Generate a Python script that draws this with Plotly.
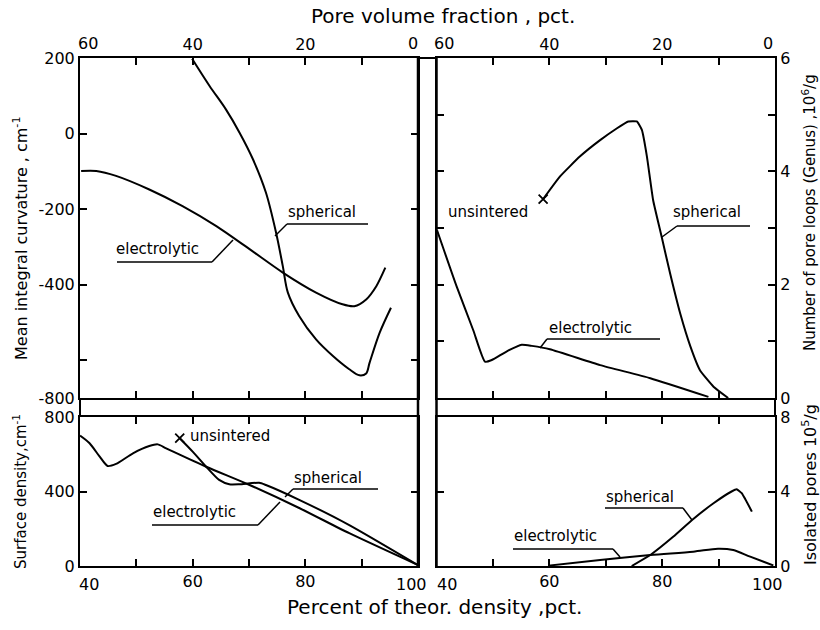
import plotly.graph_objects as go

# ---------------- data ----------------
# x values: percent of theoretical density; pore volume fraction = 100 - density
curv_sph_density = [59.9, 63.0, 65.9, 68.3, 70.7, 73.0, 74.8, 76.0, 76.9, 78.9, 81.9, 84.9, 87.8, 89.6, 90.8, 91.4, 93.2, 95.2]
curv_sph_values = [198, 126, 64, 3, -68, -156, -262, -351, -421, -483, -545, -589, -624, -640, -635, -607, -527, -461]
curv_ele_density = [40.2, 42.9, 46.4, 52.3, 58.2, 64.2, 70.1, 76.0, 81.9, 86.6, 88.7, 90.8, 92.6, 94.2]
curv_ele_values = [-99, -99, -112, -148, -192, -245, -306, -368, -421, -452, -457, -439, -404, -355]

genus_sph_density = [58.9, 61.9, 65.4, 69.0, 72.0, 74.0, 75.5, 76.4, 77.3, 78.4, 79.9, 81.4, 83.2, 85.0, 86.7, 89.1, 91.7]
genus_sph_values = [3.51, 3.91, 4.26, 4.55, 4.76, 4.88, 4.88, 4.73, 4.26, 3.49, 2.85, 2.20, 1.49, 0.91, 0.49, 0.20, 0.0]
genus_ele_density = [40.1, 43.6, 46.5, 48.6, 49.8, 52.4, 55.1, 56.9, 60.1, 69.0, 77.9, 88.2]
genus_ele_values = [2.96, 1.96, 1.20, 0.64, 0.67, 0.82, 0.94, 0.92, 0.86, 0.58, 0.35, 0.02]

surf_sph_density = [57.7, 60.0, 62.4, 64.7, 66.5, 68.3, 71.8, 73.0, 79.0, 87.8, 100.0]
surf_sph_values = [686, 614, 533, 462, 439, 439, 447, 435, 354, 220, 5]
surf_ele_density = [40.0, 41.7, 43.5, 44.9, 46.4, 49.4, 52.3, 53.8, 55.3, 62.4, 70.1, 79.0, 87.8, 100.0]
surf_ele_values = [700, 659, 587, 537, 548, 605, 644, 653, 632, 533, 435, 310, 176, 5]

iso_sph_density = [74.6, 77.9, 82.0, 85.3, 89.1, 92.3, 93.2, 94.1, 95.9]
iso_sph_values = [0.0, 0.59, 1.58, 2.47, 3.37, 4.0, 4.12, 3.91, 2.92]
iso_ele_density = [59.8, 69.0, 77.9, 85.5, 89.9, 92.6, 95.6, 99.7]
iso_ele_values = [0.02, 0.32, 0.59, 0.77, 0.93, 0.86, 0.50, 0.03]

density_ticks = [40, 50, 60, 70, 80, 90, 100]
density_ticktext = ["", "", "60", "", "80", "", ""]        # end labels drawn separately (shifted inward)
density_end_labels = ["40", "100"]
pore_ticktext = ["", "", "40", "", "20", "", ""]
pore_end_labels = ["60", "0"]
curv_ticks = [200, 0, -200, -400, -600, -700]
curv_ticktext = ["200", "0", "-200", "-400", "", "-800"]
genus_ticks = [0, 1, 2, 3, 4, 5, 6]
genus_ticktext = ["0", "", "2", "", "4", "", "6"]
surf_ticks = [0, 400, 800]
iso_ticks = [0, 4, 8]

# ---------------- layout helpers ----------------
W, H = 820, 630
FONT = "DejaVu Sans"


def px(x, y):
    return x / W, 1 - y / H


def dom_x(a, b):
    return [a / W, b / W]


def dom_y(top, bottom):
    return [1 - bottom / H, 1 - top / H]


LX = dom_x(80, 418)
RX = dom_x(436.5, 775)
TY = dom_y(58, 398)
BY = dom_y(417, 566)

fig = go.Figure()


def curve(x, y, xa, ya, smooth=0.8):
    fig.add_trace(go.Scatter(x=x, y=y, xaxis=xa, yaxis=ya, mode="lines",
                             line=dict(color="black", width=2, shape="spline", smoothing=smooth),
                             showlegend=False, hoverinfo="skip"))


curve(curv_sph_density, curv_sph_values, "x2", "y2", 0.9)
curve(curv_ele_density, curv_ele_values, "x2", "y2", 0.8)
curve(genus_sph_density, genus_sph_values, "x3", "y3", 0.4)
curve(genus_ele_density, genus_ele_values, "x3", "y3", 0.5)
curve(surf_sph_density, surf_sph_values, "x", "y", 0.6)
curve(surf_ele_density, surf_ele_values, "x", "y", 0.7)
curve(iso_sph_density, iso_sph_values, "x4", "y4", 0.4)
curve(iso_ele_density, iso_ele_values, "x4", "y4", 0.8)

# "unsintered" markers at the start of the spherical curves
for xs, ys, xa, ya in [(genus_sph_density, genus_sph_values, "x3", "y3"),
                       (surf_sph_density, surf_sph_values, "x", "y")]:
    fig.add_trace(go.Scatter(x=[xs[0]], y=[ys[0]], xaxis=xa, yaxis=ya, mode="markers",
                             marker=dict(symbol="x-thin", size=9, line=dict(color="black", width=1.8)),
                             showlegend=False, hoverinfo="skip"))

tickfont = dict(family=FONT, size=16, color="black")
common_x = dict(range=[40, 100], tickvals=density_ticks, ticks="inside", ticklen=7, tickwidth=1.5,
                tickcolor="black", showline=True, linecolor="black", linewidth=2, mirror="ticks",
                showgrid=False, zeroline=False, tickfont=tickfont, fixedrange=True, automargin=False)
common_y = dict(ticks="inside", ticklen=7, tickwidth=1.5, tickcolor="black", showline=True,
                linecolor="black", linewidth=2, mirror="ticks", showgrid=False, zeroline=False,
                tickfont=tickfont, fixedrange=True, automargin=False)

fig.update_layout(
    width=W, height=H, margin=dict(l=0, r=0, t=0, b=0, pad=0, autoexpand=False),
    paper_bgcolor="white", plot_bgcolor="white", showlegend=False,
    font=dict(family=FONT, color="black"),
    xaxis=dict(common_x, domain=LX, anchor="y", ticktext=density_ticktext),
    yaxis=dict(common_y, domain=BY, anchor="x", range=[0, 800], tickvals=surf_ticks),
    xaxis2=dict(common_x, domain=LX, anchor="y2", side="top", ticktext=pore_ticktext),
    yaxis2=dict(common_y, domain=TY, anchor="x2", range=[-700, 200], tickvals=curv_ticks,
                ticktext=curv_ticktext),
    xaxis3=dict(common_x, domain=RX, anchor="y3", side="top", ticktext=pore_ticktext),
    yaxis3=dict(common_y, domain=TY, anchor="x3", side="right", range=[0, 6], tickvals=genus_ticks,
                ticktext=genus_ticktext),
    xaxis4=dict(common_x, domain=RX, anchor="y4", ticktext=density_ticktext),
    yaxis4=dict(common_y, domain=BY, anchor="x4", side="right", range=[0, 8], tickvals=iso_ticks),
)

shapes = []


def pline(x0, y0, x1, y1, w=1.5):
    a, b = px(x0, y0)
    c, d = px(x1, y1)
    shapes.append(dict(type="line", xref="paper", yref="paper", x0=a, y0=b, x1=c, y1=d,
                       line=dict(color="black", width=w)))


# frame continuity through the gaps
pline(418, 58, 436.5, 58, 2)
for xv in (80, 775):
    pline(xv, 398, xv, 417, 2)
pline(418, 58, 418, 566, 2.5)
pline(436.5, 58, 436.5, 566, 2.5)

# label underlines and leader lines
pline(287, 224, 368, 224); pline(287, 224, 275, 236)          # spherical, top-left
pline(117, 262, 212, 262); pline(212, 262, 233, 240)          # electrolytic, top-left
pline(677, 226, 750, 226); pline(677, 226, 662, 237)          # spherical, top-right
pline(547, 339, 660, 339); pline(547, 339, 540, 348)          # electrolytic, top-right
pline(293, 489, 378, 489); pline(293, 489, 285, 497)          # spherical, bottom-left
pline(152, 525, 258, 525); pline(258, 525, 280, 502)          # electrolytic, bottom-left
pline(605, 508, 683, 508); pline(683, 508, 692, 520)          # spherical, bottom-right
pline(513, 549, 613, 549); pline(613, 549, 620, 557)          # electrolytic, bottom-right
fig.update_layout(shapes=shapes)

ann = []


def label(text, x, y, size=15, xanchor="left", angle=0):
    a, b = px(x, y)
    ann.append(dict(text=text, x=a, y=b, xref="paper", yref="paper", showarrow=False,
                    xanchor=xanchor, yanchor="middle", textangle=angle,
                    font=dict(family=FONT, size=size, color="black")))


# end tick labels, nudged inward as in the reference
label(density_end_labels[0], 89, 584, size=16, xanchor="center")
label(density_end_labels[1], 411, 584, size=16, xanchor="center")
label(density_end_labels[0], 447, 584, size=16, xanchor="center")
label(density_end_labels[1], 767, 584, size=16, xanchor="center")
label(pore_end_labels[0], 88, 44, size=16, xanchor="center")
label(pore_end_labels[1], 413, 44, size=16, xanchor="center")
label(pore_end_labels[0], 444, 44, size=16, xanchor="center")
label(pore_end_labels[1], 768, 44, size=16, xanchor="center")

label("spherical", 286, 212)
label("electrolytic", 114, 249)
label("unsintered", 446, 212)
label("spherical", 671, 212)
label("electrolytic", 547, 328)
label("unsintered", 188, 436)
label("spherical", 292, 478)
label("electrolytic", 151, 512)
label("spherical", 604, 497)
label("electrolytic", 512, 536)

label("Pore volume fraction , pct.", 443, 16, size=20, xanchor="center")
label("Percent of theor. density ,pct.", 434, 607, size=20, xanchor="center")
label("Mean integral curvature , cm<sup>-1</sup>", 20, 238, size=16, xanchor="center", angle=-90)
label("Surface density,cm<sup>-1</sup>", 20, 492, size=15, xanchor="center", angle=-90)
label("Number of pore loops (Genus) ,10<sup>6</sup>/g", 809, 213, size=15, xanchor="center", angle=-90)
label("Isolated pores 10<sup>5</sup>/g", 809, 485, size=16, xanchor="center", angle=-90)
fig.update_layout(annotations=ann)

fig.write_html("out.html")
